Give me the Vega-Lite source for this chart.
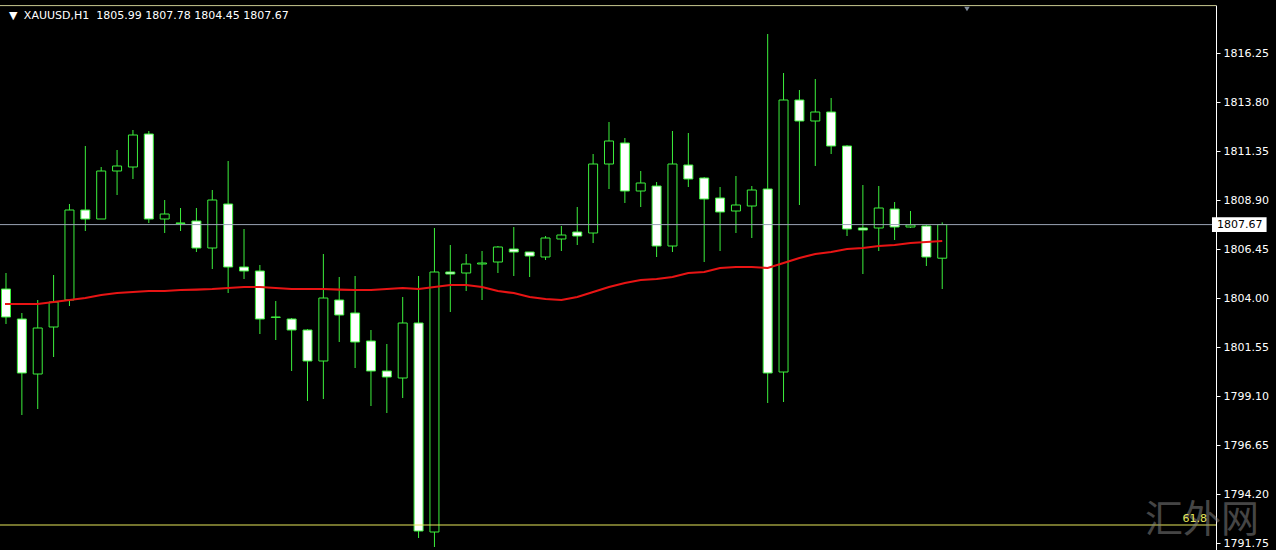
{
  "$schema": "https://vega.github.io/schema/vega-lite/v6.json",
  "width": 1216,
  "height": 545,
  "autosize": {"type": "none"},
  "padding": {"left": 0, "top": 5, "right": 60, "bottom": 0},
  "background": "#000000",
  "config": {"view": {"stroke": null}, "font": "DejaVu Sans"},
  "datasets": {
    "candles": [
      {"k":0,"open":1804.45,"high":1805.25,"low":1802.70,"close":1803.05},
      {"k":1,"open":1802.95,"high":1803.25,"low":1798.15,"close":1800.25},
      {"k":2,"open":1800.20,"high":1803.90,"low":1798.45,"close":1802.50},
      {"k":3,"open":1802.55,"high":1805.15,"low":1801.05,"close":1803.80},
      {"k":4,"open":1803.90,"high":1808.70,"low":1803.60,"close":1808.40},
      {"k":5,"open":1808.40,"high":1811.60,"low":1807.35,"close":1807.95},
      {"k":6,"open":1807.95,"high":1810.55,"low":1807.95,"close":1810.35},
      {"k":7,"open":1810.35,"high":1811.40,"low":1809.15,"close":1810.60},
      {"k":8,"open":1810.55,"high":1812.40,"low":1809.95,"close":1812.15},
      {"k":9,"open":1812.20,"high":1812.35,"low":1807.75,"close":1807.95},
      {"k":10,"open":1807.95,"high":1808.90,"low":1807.25,"close":1808.20},
      {"k":11,"open":1807.75,"high":1808.50,"low":1807.35,"close":1807.73},
      {"k":12,"open":1807.85,"high":1808.50,"low":1806.30,"close":1806.50},
      {"k":13,"open":1806.50,"high":1809.40,"low":1805.45,"close":1808.90},
      {"k":14,"open":1808.70,"high":1810.85,"low":1804.25,"close":1805.55},
      {"k":15,"open":1805.55,"high":1807.45,"low":1804.95,"close":1805.35},
      {"k":16,"open":1805.35,"high":1805.65,"low":1802.20,"close":1802.95},
      {"k":17,"open":1803.05,"high":1803.85,"low":1801.90,"close":1803.03},
      {"k":18,"open":1802.95,"high":1803.00,"low":1800.35,"close":1802.40},
      {"k":19,"open":1802.40,"high":1802.45,"low":1798.85,"close":1800.85},
      {"k":20,"open":1800.85,"high":1806.20,"low":1798.95,"close":1804.00},
      {"k":21,"open":1803.90,"high":1805.05,"low":1801.80,"close":1803.15},
      {"k":22,"open":1803.25,"high":1805.10,"low":1800.50,"close":1801.80},
      {"k":23,"open":1801.85,"high":1802.40,"low":1798.60,"close":1800.35},
      {"k":24,"open":1800.35,"high":1801.70,"low":1798.25,"close":1800.05},
      {"k":25,"open":1800.00,"high":1804.05,"low":1799.00,"close":1802.75},
      {"k":26,"open":1802.75,"high":1805.10,"low":1792.00,"close":1792.35},
      {"k":27,"open":1792.30,"high":1807.50,"low":1791.55,"close":1805.30},
      {"k":28,"open":1805.30,"high":1806.65,"low":1803.30,"close":1805.20},
      {"k":29,"open":1805.25,"high":1806.20,"low":1804.35,"close":1805.70},
      {"k":30,"open":1805.70,"high":1806.35,"low":1803.90,"close":1805.75},
      {"k":31,"open":1805.80,"high":1806.60,"low":1805.25,"close":1806.55},
      {"k":32,"open":1806.45,"high":1807.55,"low":1805.10,"close":1806.30},
      {"k":33,"open":1806.30,"high":1806.30,"low":1805.05,"close":1806.10},
      {"k":34,"open":1806.05,"high":1807.10,"low":1805.90,"close":1807.00},
      {"k":35,"open":1806.95,"high":1807.60,"low":1806.35,"close":1807.15},
      {"k":36,"open":1807.30,"high":1808.55,"low":1806.65,"close":1807.10},
      {"k":37,"open":1807.25,"high":1811.20,"low":1806.75,"close":1810.70},
      {"k":38,"open":1810.70,"high":1812.80,"low":1809.45,"close":1811.85},
      {"k":39,"open":1811.75,"high":1812.00,"low":1808.75,"close":1809.35},
      {"k":40,"open":1809.35,"high":1810.35,"low":1808.55,"close":1809.75},
      {"k":41,"open":1809.60,"high":1809.80,"low":1806.05,"close":1806.60},
      {"k":42,"open":1806.60,"high":1812.35,"low":1806.30,"close":1810.70},
      {"k":43,"open":1810.65,"high":1812.25,"low":1809.55,"close":1809.95},
      {"k":44,"open":1810.00,"high":1810.05,"low":1805.80,"close":1808.95},
      {"k":45,"open":1809.00,"high":1809.55,"low":1806.35,"close":1808.30},
      {"k":46,"open":1808.35,"high":1810.10,"low":1807.25,"close":1808.65},
      {"k":47,"open":1808.60,"high":1809.60,"low":1807.00,"close":1809.40},
      {"k":48,"open":1809.45,"high":1817.20,"low":1798.75,"close":1800.25},
      {"k":49,"open":1800.30,"high":1815.25,"low":1798.80,"close":1813.90},
      {"k":50,"open":1813.90,"high":1814.40,"low":1808.65,"close":1812.85},
      {"k":51,"open":1812.85,"high":1814.95,"low":1810.60,"close":1813.30},
      {"k":52,"open":1813.30,"high":1814.00,"low":1811.20,"close":1811.60},
      {"k":53,"open":1811.60,"high":1811.65,"low":1807.10,"close":1807.45},
      {"k":54,"open":1807.50,"high":1809.65,"low":1805.20,"close":1807.40},
      {"k":55,"open":1807.50,"high":1809.60,"low":1806.35,"close":1808.50},
      {"k":56,"open":1808.45,"high":1808.80,"low":1806.90,"close":1807.55},
      {"k":57,"open":1807.55,"high":1808.35,"low":1807.50,"close":1807.65},
      {"k":58,"open":1807.60,"high":1807.65,"low":1805.60,"close":1806.05},
      {"k":59,"open":1805.99,"high":1807.78,"low":1804.45,"close":1807.67}
    ],
    "ma": [
      {"k":-0.0625,"ma":1803.70},{"k":1,"ma":1803.70},{"k":2,"ma":1803.70},{"k":3,"ma":1803.80},{"k":4,"ma":1803.90},
      {"k":5,"ma":1804.00},{"k":6,"ma":1804.15},{"k":7,"ma":1804.25},{"k":8,"ma":1804.30},{"k":9,"ma":1804.35},
      {"k":10,"ma":1804.35},{"k":11,"ma":1804.40},{"k":12,"ma":1804.42},{"k":13,"ma":1804.45},{"k":14,"ma":1804.50},
      {"k":15,"ma":1804.55},{"k":16,"ma":1804.55},{"k":17,"ma":1804.50},{"k":18,"ma":1804.45},{"k":19,"ma":1804.45},
      {"k":20,"ma":1804.45},{"k":21,"ma":1804.42},{"k":22,"ma":1804.40},{"k":23,"ma":1804.40},{"k":24,"ma":1804.45},
      {"k":25,"ma":1804.50},{"k":26,"ma":1804.45},{"k":27,"ma":1804.55},{"k":28,"ma":1804.65},{"k":29,"ma":1804.65},
      {"k":30,"ma":1804.55},{"k":31,"ma":1804.35},{"k":32,"ma":1804.25},{"k":33,"ma":1804.05},{"k":34,"ma":1803.95},
      {"k":35,"ma":1803.90},{"k":36,"ma":1804.05},{"k":37,"ma":1804.30},{"k":38,"ma":1804.55},{"k":39,"ma":1804.75},
      {"k":40,"ma":1804.90},{"k":41,"ma":1804.95},{"k":42,"ma":1805.05},{"k":43,"ma":1805.25},{"k":44,"ma":1805.30},
      {"k":45,"ma":1805.50},{"k":46,"ma":1805.55},{"k":47,"ma":1805.55},{"k":48,"ma":1805.50},{"k":49,"ma":1805.75},
      {"k":50,"ma":1806.00},{"k":51,"ma":1806.20},{"k":52,"ma":1806.30},{"k":53,"ma":1806.45},{"k":54,"ma":1806.50},
      {"k":55,"ma":1806.60},{"k":56,"ma":1806.65},{"k":57,"ma":1806.75},{"k":58,"ma":1806.80},{"k":59,"ma":1806.85}
    ]
  },
  "layer": [
    {
      "data": {"values": [{"p": 1818.62}]},
      "mark": {"type": "rule", "color": "#c8c890", "strokeWidth": 1},
      "encoding": {"y": {"field": "p", "type": "quantitative", "scale": {"domain": [1791.40, 1818.65], "nice": false, "zero": false}}}
    },
    {
      "data": {"name": "candles"},
      "mark": {"type": "rule", "color": "#3cf03c", "strokeWidth": 1},
      "encoding": {
        "x": {"field": "k", "type": "quantitative", "scale": {"domain": [-0.0625, 75.9375], "nice": false, "zero": false}, "axis": null},
        "y": {"field": "low", "type": "quantitative", "scale": {"domain": [1791.40, 1818.65], "nice": false, "zero": false},
          "axis": {"orient": "right", "values": [1816.25, 1813.80, 1811.35, 1808.90, 1806.45, 1804.00, 1801.55, 1799.10, 1796.65, 1794.20, 1791.75],
            "format": ".2f", "grid": false, "domain": true, "domainColor": "#ffffff", "domainWidth": 1, "tickColor": "#ffffff", "tickSize": 4,
            "labelColor": "#ffffff", "labelFontSize": 11, "labelFont": "DejaVu Sans", "labelPadding": 3, "title": null, "labelBound": false, "labelOverlap": false}},
        "y2": {"field": "high"}
      }
    },
    {
      "data": {"name": "candles"},
      "mark": {"type": "bar", "size": 9, "stroke": "#3cf03c", "strokeWidth": 1},
      "encoding": {
        "x": {"field": "k", "type": "quantitative", "scale": {"domain": [-0.0625, 75.9375], "nice": false, "zero": false}},
        "y": {"field": "open", "type": "quantitative", "scale": {"domain": [1791.40, 1818.65], "nice": false, "zero": false}},
        "y2": {"field": "close"},
        "fill": {"condition": {"test": "datum.close > datum.open", "value": "#000000"}, "value": "#ffffff"}
      }
    },
    {
      "data": {"name": "ma"},
      "mark": {"type": "line", "color": "#e81414", "strokeWidth": 2.2},
      "encoding": {
        "x": {"field": "k", "type": "quantitative", "scale": {"domain": [-0.0625, 75.9375], "nice": false, "zero": false}},
        "y": {"field": "ma", "type": "quantitative", "scale": {"domain": [1791.40, 1818.65], "nice": false, "zero": false}}
      }
    },
    {
      "data": {"values": [{"p": 1807.67}]},
      "mark": {"type": "rule", "color": "#9aa4b4", "strokeWidth": 1},
      "encoding": {"y": {"field": "p", "type": "quantitative", "scale": {"domain": [1791.40, 1818.65], "nice": false, "zero": false}}}
    },
    {
      "data": {"values": [{"p": 1792.65}]},
      "mark": {"type": "rule", "color": "#e6e65a", "strokeWidth": 1},
      "encoding": {"y": {"field": "p", "type": "quantitative", "scale": {"domain": [1791.40, 1818.65], "nice": false, "zero": false}}}
    },
    {
      "data": {"values": [{"x": 75.37, "p": 1792.85, "t": "汇外网"}]},
      "mark": {"type": "text", "color": "#8a8a8a", "opacity": 0.5, "fontSize": 38, "align": "center", "baseline": "middle", "font": "Noto Sans CJK SC", "clip": false},
      "encoding": {
        "x": {"field": "x", "type": "quantitative", "scale": {"domain": [-0.0625, 75.9375], "nice": false, "zero": false}},
        "y": {"field": "p", "type": "quantitative", "scale": {"domain": [1791.40, 1818.65], "nice": false, "zero": false}},
        "text": {"field": "t"}
      }
    },
    {
      "data": {"values": [{"x": 75.69, "p": 1792.65, "t": "61.8"}]},
      "mark": {"type": "text", "color": "#e6e65a", "fontSize": 11, "align": "right", "baseline": "bottom", "dy": -1, "font": "DejaVu Sans"},
      "encoding": {
        "x": {"field": "x", "type": "quantitative", "scale": {"domain": [-0.0625, 75.9375], "nice": false, "zero": false}},
        "y": {"field": "p", "type": "quantitative", "scale": {"domain": [1791.40, 1818.65], "nice": false, "zero": false}},
        "text": {"field": "t"}
      }
    },
    {
      "data": {"values": [{"x": 76.0, "x2": 79.44, "p1": 1807.30, "p2": 1808.04}]},
      "mark": {"type": "rect", "fill": "#ffffff", "clip": false},
      "encoding": {
        "x": {"field": "x", "type": "quantitative", "scale": {"domain": [-0.0625, 75.9375], "nice": false, "zero": false}},
        "x2": {"field": "x2"},
        "y": {"field": "p1", "type": "quantitative", "scale": {"domain": [1791.40, 1818.65], "nice": false, "zero": false}},
        "y2": {"field": "p2"}
      }
    },
    {
      "data": {"values": [{"x": 76.31, "p": 1807.67, "t": "1807.67"}]},
      "mark": {"type": "text", "color": "#000000", "fontSize": 11, "align": "left", "baseline": "middle", "font": "DejaVu Sans", "clip": false},
      "encoding": {
        "x": {"field": "x", "type": "quantitative", "scale": {"domain": [-0.0625, 75.9375], "nice": false, "zero": false}},
        "y": {"field": "p", "type": "quantitative", "scale": {"domain": [1791.40, 1818.65], "nice": false, "zero": false}},
        "text": {"field": "t"}
      }
    },
    {
      "data": {"values": [{"x": 0.19, "p": 1818.10, "t": "▼"}, {"x": 1.125, "p": 1818.10, "t": "XAUUSD,H1\u00a0\u00a01805.99 1807.78 1804.45 1807.67"}]},
      "mark": {"type": "text", "color": "#ffffff", "fontSize": 11, "align": "left", "baseline": "middle", "font": "DejaVu Sans"},
      "encoding": {
        "x": {"field": "x", "type": "quantitative", "scale": {"domain": [-0.0625, 75.9375], "nice": false, "zero": false}},
        "y": {"field": "p", "type": "quantitative", "scale": {"domain": [1791.40, 1818.65], "nice": false, "zero": false}},
        "text": {"field": "t"}
      }
    },
    {
      "data": {"values": [{"x": 60.56, "p": 1818.45}]},
      "mark": {"type": "point", "shape": "triangle-down", "filled": true, "color": "#7f8a99", "size": 30, "opacity": 1},
      "encoding": {
        "x": {"field": "x", "type": "quantitative", "scale": {"domain": [-0.0625, 75.9375], "nice": false, "zero": false}},
        "y": {"field": "p", "type": "quantitative", "scale": {"domain": [1791.40, 1818.65], "nice": false, "zero": false}}
      }
    }
  ]
}
